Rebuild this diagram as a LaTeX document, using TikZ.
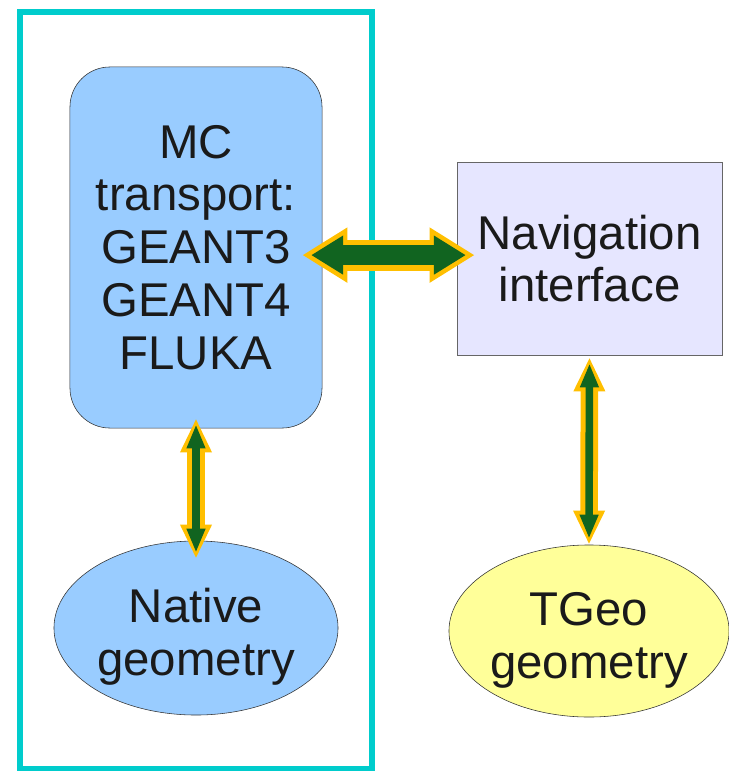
\documentclass[tikz,border=0pt]{standalone}
\usepackage{fontspec}
\setmainfont{Liberation Sans}
\usetikzlibrary{arrows.meta, shapes.geometric}
\definecolor{frameCyan}{RGB}{0,204,204}
\definecolor{mcBlue}{RGB}{153,204,255}
\definecolor{navLilac}{RGB}{230,230,255}
\definecolor{geoYellow}{RGB}{255,255,153}
\definecolor{linkGreen}{RGB}{17,100,32}
\definecolor{linkAmber}{RGB}{255,191,0}
\definecolor{boxInk}{RGB}{51,51,51}
\definecolor{textInk}{RGB}{26,26,26}

\begin{document}
\begin{tikzpicture}[x=0.025cm, y=-0.025cm,
    block/.style={draw=boxInk, thin, align=center, inner sep=0pt, text=textInk,
      font=\fontsize{33.7}{37.6}\selectfont},
    mcbox/.style={block, rounded corners=1cm, fill=mcBlue, minimum width=6.3cm, minimum height=9.025cm},
    navbox/.style={block, draw=boxInk!75, fill=navLilac, minimum width=6.625cm, minimum height=4.825cm},
    geo/.style={block, ellipse, minimum width=7.1cm, minimum height=4.35cm},
    frame/.style={draw=frameCyan, line width=0.15cm},
    bigback/.style={draw=linkAmber, line width=0.775cm,
      {Triangle[width=1.3cm, length=1.125cm]}-{Triangle[width=1.3cm, length=1.125cm]}},
    bigfront/.style={draw=linkGreen, line width=0.5cm,
      {Triangle[width=0.92cm, length=0.8cm]}-{Triangle[width=0.92cm, length=0.8cm]}},
    slimback/.style={draw=linkAmber, line width=0.44cm,
      {Triangle[width=0.73cm, length=0.85cm]}-{Triangle[width=0.73cm, length=0.85cm]}},
    slimfront/.style={draw=linkGreen, line width=0.19cm,
      {Triangle[width=0.43cm, length=0.6cm]}-{Triangle[width=0.43cm, length=0.6cm]}}
  ]
  \useasboundingbox (0,0) rectangle (729,771);

  % simulation side
  \draw[frame] (20,12) rectangle (371.5,769);
  \node[mcbox] (mc) at (196,247.5) {MC\\transport:\\GEANT3\\GEANT4\\FLUKA};
  \node[geo, fill=mcBlue] (native) at (196,628) {\rule{0pt}{1.3cm}Native\\geometry};

  % ROOT side
  \node[navbox] (nav) at (589.5,258.5) {Navigation\\interface};
  \node[geo, fill=geoYellow, minimum width=7.0cm, minimum height=4.3cm] (tgeo) at (589,631) {\rule{0pt}{1.3cm}TGeo\\geometry};

  % links
  \draw[bigback, shorten <=-0.5cm, shorten >=-0.45cm] ([yshift=-0.19cm]mc.east) -- ([yshift=-0.19cm]mc.east -| nav.west);
  \draw[bigfront, shorten <=-0.28cm, shorten >=-0.23cm] ([yshift=-0.19cm]mc.east) -- ([yshift=-0.19cm]mc.east -| nav.west);
  \draw[slimback, shorten <=-0.25cm, shorten >=-0.45cm] (mc.south) -- (native.north);
  \draw[slimfront, shorten <=-0.1cm, shorten >=-0.3cm] (mc.south) -- (native.north);
  \draw[slimback, shorten <=0.05cm, shorten >=0cm] (nav.south) -- (tgeo.north);
  \draw[slimfront, shorten <=0.2cm, shorten >=0.15cm] (nav.south) -- (tgeo.north);
\end{tikzpicture}
\end{document}
